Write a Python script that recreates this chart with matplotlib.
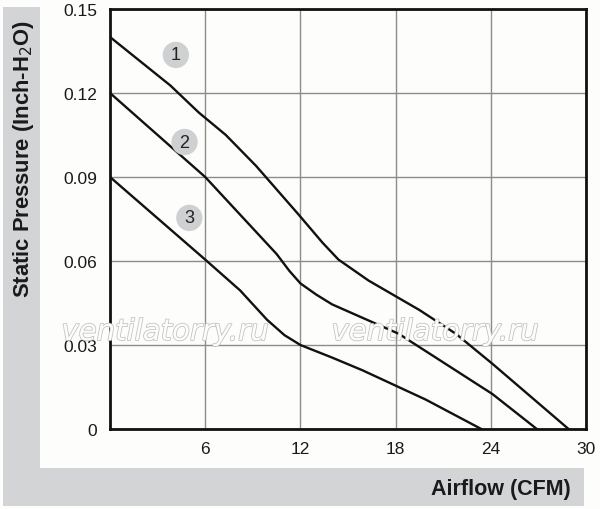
import matplotlib
matplotlib.use("Agg")
import matplotlib.pyplot as plt
from matplotlib.patches import Rectangle
import matplotlib.patheffects as pe

plt.rcParams['font.family'] = ['Liberation Sans', 'DejaVu Sans']

# Curve data (Airflow CFM, Static Pressure inch-H2O)
c1_x = [0, 3.8, 5.6, 7.3, 9.2, 11.9, 13.4, 14.4, 16.3, 19.5, 21.8, 24.1, 28.9]
c1_y = [0.14, 0.1227, 0.113, 0.105, 0.094, 0.0765, 0.0665, 0.0605, 0.053, 0.0425, 0.034, 0.0233, 0.0]
c2_x = [0, 6.0, 10.5, 11.3, 12.0, 13.0, 14.0, 18.2, 24.1, 26.9]
c2_y = [0.12, 0.09, 0.0625, 0.0565, 0.052, 0.048, 0.0445, 0.034, 0.0125, 0.0]
c3_x = [0, 6.0, 8.2, 9.9, 11.0, 12.0, 14.0, 15.9, 19.9, 23.4]
c3_y = [0.09, 0.0605, 0.0495, 0.039, 0.0335, 0.030, 0.0255, 0.021, 0.0105, 0.0]
curves = [(c1_x, c1_y), (c2_x, c2_y), (c3_x, c3_y)]

label_names = ['1', '2', '3']
label_x = [4.15, 4.7, 5.0]
label_y = [0.1336, 0.1025, 0.0754]

x_ticks = [6, 12, 18, 24, 30]
x_ticklabels = ['6', '12', '18', '24', '30']
y_ticks = [0, 0.03, 0.06, 0.09, 0.12, 0.15]
y_ticklabels = ['0', '0.03', '0.06', '0.09', '0.12', '0.15']

W, H = 600, 510
fig = plt.figure(figsize=(6, 5.1), dpi=100, facecolor='#fdfdfb')
band = '#d3d4d6'
fig.patches.append(Rectangle((3/W, 3/H), 37/W, 499/H, transform=fig.transFigure,
                             facecolor=band, edgecolor='none', zorder=0))
fig.patches.append(Rectangle((3/W, 3/H), 581/W, 38/H, transform=fig.transFigure,
                             facecolor=band, edgecolor='none', zorder=0))

ax = fig.add_axes([110/W, 80/H, 476/W, 420/H])
ax.set_facecolor('#fdfdfb')
ax.set_xlim(0, 30)
ax.set_ylim(0, 0.15)
ax.set_xticks(x_ticks)
ax.set_xticklabels(x_ticklabels)
ax.set_yticks(y_ticks)
ax.set_yticklabels(y_ticklabels)
ax.tick_params(length=0, labelsize=12.5, colors='#1a1a1a', pad=9)
ax.tick_params(axis='x', pad=9)
ax.grid(True, color='#8c8c8c', linewidth=1.0)
ax.set_axisbelow(True)
for s in ax.spines.values():
    s.set_linewidth(2)
    s.set_color('#111111')

for xs, ys in curves:
    ax.plot(xs, ys, color='#111111', linewidth=1.7, zorder=3,
            solid_joinstyle='round')

ax.scatter(label_x, label_y, s=360, color='#cfd0d2', edgecolors='none', zorder=4)
for n, lx, ly in zip(label_names, label_x, label_y):
    ax.text(lx, ly, n, ha='center', va='center', fontsize=13, color='#222222', zorder=5)

# watermark
for wx in [165, 435]:
    fig.text(wx/W, (H-333)/H, 'ventilatorry.ru', ha='center', va='center', fontsize=21,
             style='italic', color='#fdfdfb', zorder=6, family='DejaVu Sans',
             path_effects=[pe.withStroke(linewidth=1.2, foreground='#c4c4c4')])

fig.text(24/W, (H-159)/H, 'Static Pressure (Inch-H$_2$O)', rotation=90, ha='center', va='center',
         fontsize=15.8, fontweight='bold', color='#1a1a1a')
fig.text(571/W, (H-490)/H, 'Airflow (CFM)', ha='right', va='center',
         fontsize=15.5, fontweight='bold', color='#1a1a1a')

fig.savefig('out.png', dpi=100, facecolor=fig.get_facecolor())
